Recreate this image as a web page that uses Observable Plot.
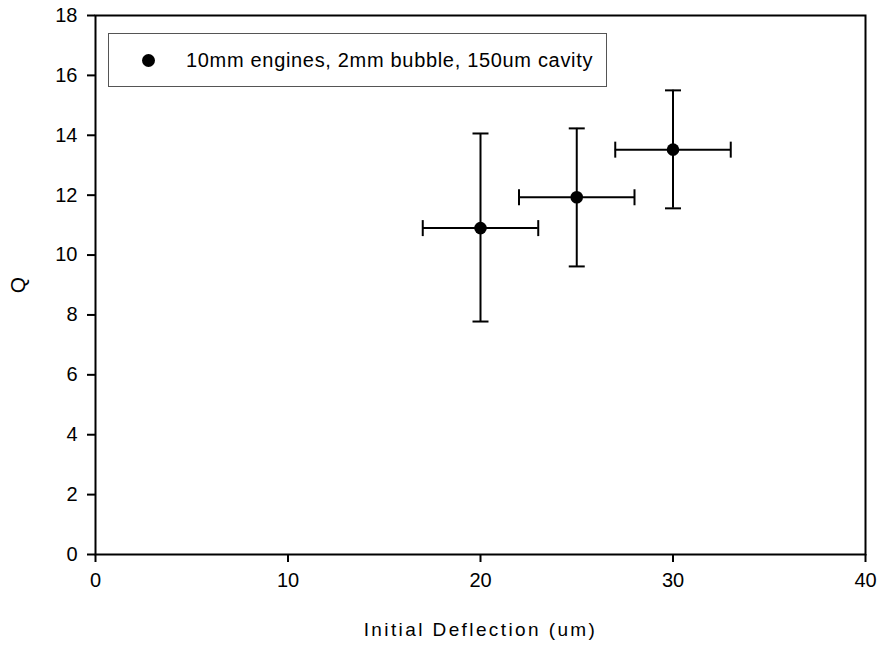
<!DOCTYPE html>
<html>
<head>
<meta charset="utf-8">
<script src="https://cdn.jsdelivr.net/npm/d3@7"></script>
<script src="https://cdn.jsdelivr.net/npm/@observablehq/plot@0.6"></script>
<style>
  html, body { margin: 0; padding: 0; background: #fff; }
  #wrap { position: relative; width: 880px; height: 645px; font-family: "Liberation Sans", Arial, sans-serif; }
  #legend { position: absolute; left: 108px; top: 33px; width: 499px; height: 54px; border: 1px solid #555; background: #fff; box-sizing: border-box; }
  #legend .dot { position: absolute; left: 33px; top: 20px; width: 13px; height: 13px; border-radius: 50%; background: #000; }
  #legend .txt { position: absolute; left: 77px; top: 14px; font-size: 20px; line-height: 24px; color: #000; white-space: nowrap; letter-spacing: 0.68px; }
  g[aria-label="x-axis label"] text { letter-spacing: 2.4px; font-size: 19px; }
  g[aria-label="y-axis label"] text { font-size: 21px; }
</style>
</head>
<body>
<div id="wrap"></div>
<script>
const deflection = [20, 25, 30];
const qValues = [10.9, 11.93, 13.52];
const qLow = [7.78, 9.62, 11.56];
const qHigh = [14.06, 14.23, 15.5];
const deflLow = [17, 22, 27];
const deflHigh = [23, 28, 33];
const xTicks = [0, 10, 20, 30, 40];
const yTicks = [0, 2, 4, 6, 8, 10, 12, 14, 16, 18];
const seriesLabel = "10mm engines, 2mm bubble, 150um cavity";

const data = deflection.map((x, i) => ({
  x, y: qValues[i], yLo: qLow[i], yHi: qHigh[i], xLo: deflLow[i], xHi: deflHigh[i]
}));

const hCap = { draw(ctx, size) { const h = Math.sqrt(size / Math.PI); ctx.moveTo(-h, 0); ctx.lineTo(h, 0); } };
const vCap = { draw(ctx, size) { const h = Math.sqrt(size / Math.PI); ctx.moveTo(0, -h); ctx.lineTo(0, h); } };

const chart = Plot.plot({
  width: 880,
  height: 645,
  marginLeft: 95,
  marginRight: 15,
  marginTop: 15,
  marginBottom: 91,
  style: { fontFamily: "'Liberation Sans', Arial, sans-serif", fontSize: "20px", color: "#000", background: "#fff" },
  x: { domain: [0, 40] },
  y: { domain: [0, 18] },
  marks: [
    Plot.axisX({ ticks: xTicks, tickSize: 8, tickPadding: 10, strokeWidth: 2, fontSize: 20, label: "Initial Deflection (um)", labelAnchor: "center", labelOffset: 81, labelArrow: false }),
    Plot.axisY({ ticks: yTicks, tickSize: 8, tickPadding: 10, strokeWidth: 2, fontSize: 20, label: "Q", labelAnchor: "center", labelOffset: 85, labelArrow: false }),
    Plot.ruleX(data, { x: "x", y1: "yLo", y2: "yHi", stroke: "black", strokeWidth: 2 }),
    Plot.ruleY(data, { y: "y", x1: "xLo", x2: "xHi", stroke: "black", strokeWidth: 2 }),
    Plot.dot(data, { x: "x", y: "yLo", symbol: hCap, r: 8, stroke: "black", strokeWidth: 2 }),
    Plot.dot(data, { x: "x", y: "yHi", symbol: hCap, r: 8, stroke: "black", strokeWidth: 2 }),
    Plot.dot(data, { x: "xLo", y: "y", symbol: vCap, r: 8, stroke: "black", strokeWidth: 2 }),
    Plot.dot(data, { x: "xHi", y: "y", symbol: vCap, r: 8, stroke: "black", strokeWidth: 2 }),
    Plot.dot(data, { x: "x", y: "y", r: 6.3, fill: "black", stroke: "none" }),
    Plot.frame({ stroke: "black", strokeWidth: 2 })
  ]
});

const wrap = document.getElementById("wrap");
wrap.appendChild(chart);
const legend = document.createElement("div");
legend.id = "legend";
legend.innerHTML = '<div class="dot"></div><div class="txt"></div>';
legend.querySelector(".txt").textContent = seriesLabel;
wrap.appendChild(legend);
</script>
</body>
</html>
